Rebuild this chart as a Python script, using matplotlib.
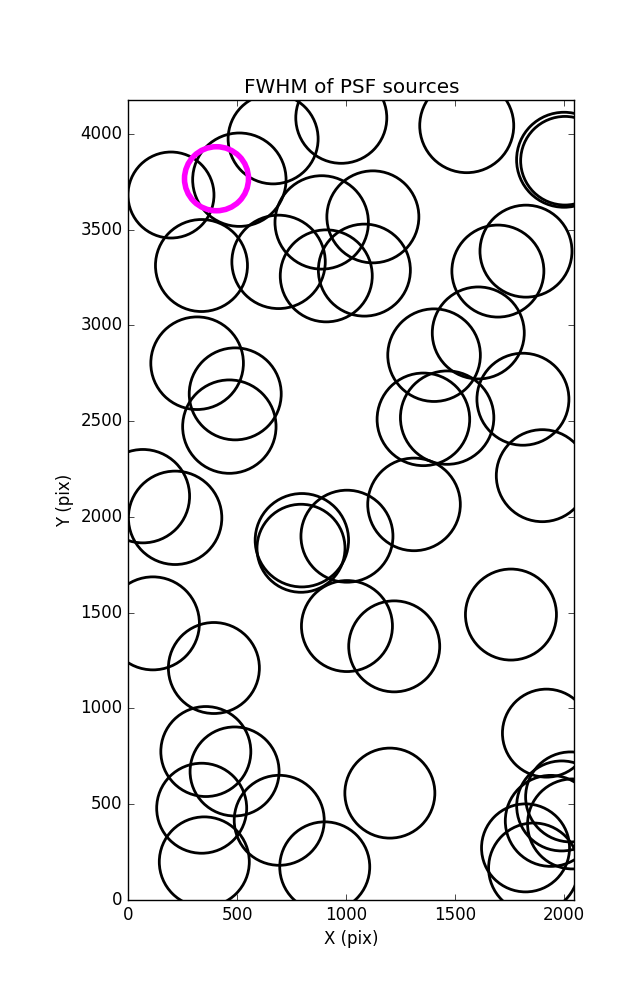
import matplotlib
matplotlib.use('Agg')
import matplotlib.pyplot as plt
import numpy as np

# source positions (pix) and apparent FWHM (marker radius, screen px)
x_src = [196, 510, 665, 978, 336, 690, 888, 1123, 909, 1084, 1554, 2001, 2005, 1826, 1697,
         1404, 1607, 1812, 1355, 1464, 1901, 1312, 1004, 797, 793, 1757, 1221, 1004,
         316, 491, 464, 67, 215, 113, 393, 356, 488, 337, 349, 693, 902, 1201, 1920,
         2031, 1990, 2040, 1940, 1824, 1861]
y_src = [3680, 3760, 3973, 4083, 3312, 3331, 3537, 3566, 3258, 3288, 4042, 3864, 3859, 3387, 3283,
         2844, 2960, 2614, 2509, 2518, 2215, 2065, 1899, 1878, 1836, 1490, 1324, 1430,
         2802, 2642, 2471, 2108, 1995, 1444, 1211, 775, 671, 479, 199, 416, 173, 558, 871,
         538, 491, 397, 413, 272, 167]
fwhm = [43, 46.7, 45, 45.5, 46, 46.7, 46.7, 46, 46, 46, 47, 47.5, 44.3, 46, 46,
        46.3, 46, 46, 46.3, 46.7, 46, 46.3, 46, 46.7, 44, 45.5, 45.5, 45.5,
        46.3, 46, 46.7, 46.7, 46.7, 46.5, 45.5, 45, 44.5, 45, 45, 45, 45, 45, 44,
        45, 45, 45, 45.5, 44, 45]

# selected source
x_sel = [405]
y_sel = [3765]
fwhm_sel = [32]

plt.style.use('classic')
fig = plt.figure(figsize=(6.37, 10), dpi=100)
ax = fig.add_axes([0.2014, 0.1, 0.7002, 0.8])

s = (2 * np.array(fwhm) * 0.72) ** 2
ax.scatter(x_src, y_src, s=s, facecolors='none', edgecolors='k', linewidths=2)
s_sel = (2 * np.array(fwhm_sel) * 0.72) ** 2
ax.scatter(x_sel, y_sel, s=s_sel, facecolors='none', edgecolors='magenta', linewidths=4)

ax.set_xlim(0, 2048)
ax.set_ylim(0, 4176)
ax.set_xticks(np.arange(0, 2001, 500))
ax.set_yticks(np.arange(0, 4001, 500))
ax.set_xlabel('X (pix)')
ax.set_ylabel('Y (pix)')
ax.set_title('FWHM of PSF sources')

fig.savefig('out.png', dpi=100, facecolor='w')
